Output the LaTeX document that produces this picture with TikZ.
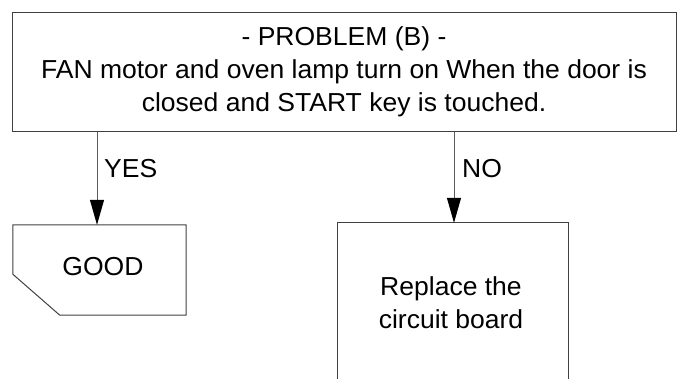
\documentclass[tikz,border=0pt]{standalone}
\usepackage{fontspec}
\setmainfont{Liberation Sans}[FakeStretch=1.02]
\usepackage{tikz}
\usetikzlibrary{arrows.meta, positioning, calc}

\begin{document}
\begin{tikzpicture}[x=1pt, y=1pt,
  font=\fontsize{26}{33}\selectfont,
  box/.style={rectangle, draw=black!75, line width=1pt, align=center,
              inner sep=0pt},
  plain/.style={rectangle, align=center, inner sep=0pt},
  edge/.style={draw=black!75, line width=1pt},
  arr/.style={-{Triangle[length=25pt, width=14pt, color=black]}, black!65, line width=1pt}
]
\useasboundingbox (0,0) rectangle (686,-378);

\node[box, minimum width=664pt, minimum height=119pt] (problem) at (344,-71.5)
  {- PROBLEM (B) -\\FAN motor and oven lamp turn on When the door is\\closed and START key is touched.};
\node[plain, minimum width=173pt, minimum height=90pt] (good) at (99.5,-270) {};
\node[plain] (goodtext) at (103,-267) {GOOD};
\node[plain, minimum width=230pt, minimum height=160pt] (fix) at (453,-303) {};
\node[plain] (fixtext) at (451,-303) {Replace the\\circuit board};

% outlines
\draw[edge] (good.north west) -- (good.north east) -- (good.south east)
  -- ($(good.south west)+(47,0)$) -- ($(good.south west)+(0,41)$) -- cycle;
\draw[edge] (fix.south west) -- (fix.north west) -- (fix.north east) -- (fix.south east);

% branches
\draw[arr] ([xshift=-2.5pt]problem.south -| good.north) -- ([xshift=-2.5pt]good.north);
\draw[arr] ([xshift=1pt]problem.south -| fix.north) -- ([xshift=1pt]fix.north);
\node[plain, anchor=base west] (yes) at (104,-177) {YES};
\node[plain, anchor=base west] (no) at (462,-177) {NO};
\end{tikzpicture}
\end{document}
